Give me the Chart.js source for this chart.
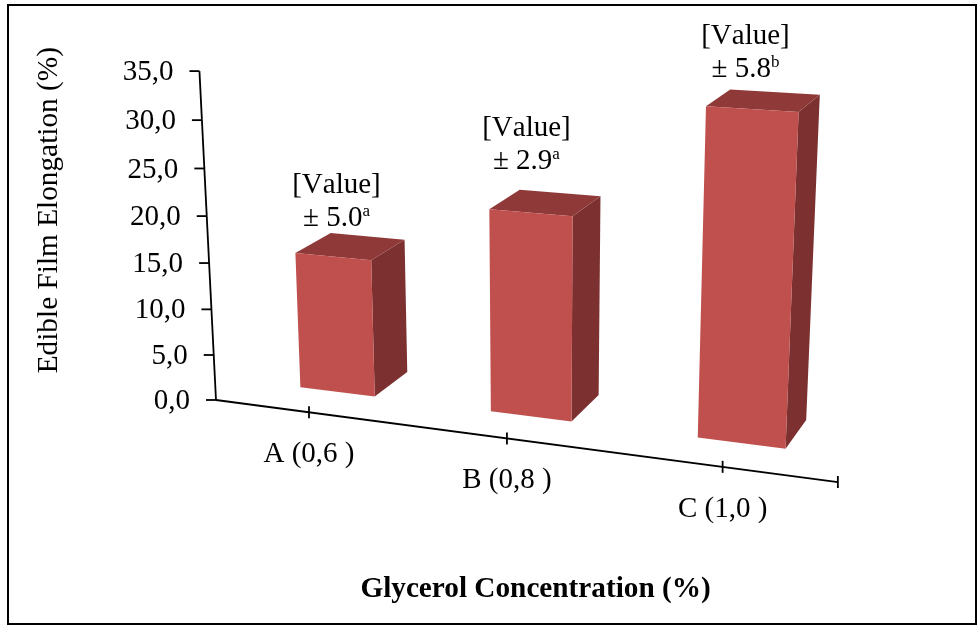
<!DOCTYPE html>
<html>
<head>
<meta charset="utf-8">
<title>Edible Film Elongation</title>
<script src="https://cdn.jsdelivr.net/npm/chart.js@4/dist/chart.umd.min.js"></script>
<style>
  html, body { margin: 0; padding: 0; background: #fff; }
  #wrap { width: 977px; height: 626px; }
</style>
</head>
<body>
<div id="wrap"><canvas id="filmChart" width="977" height="626"></canvas></div>
<script>
const categories = ['A (0,6 )', 'B (0,8 )', 'C (1,0 )'];
const elongation = [14.9, 21.4, 33.1];
const errors = ['± 5.0', '± 2.9', '± 5.8'];
const letters = ['a', 'a', 'b'];
const yMax = 35;
const yStep = 5;

// layout of the value labels, relative to the middle of each bar's top
const labelShift = [[-14, -28], [-19, -41], [-18, -31]];

const SERIF = '"Liberation Serif", "Times New Roman", serif';
const FONT_SIZE = 29;
const FRONT = '#C0504D', SIDE = '#7C3130', TOP = '#8F3A39';

// perspective of the 3D box, vanishing points fitted on the picture
const ORIGIN = [216, 400];
const VX = [-4310, -197], VY = [539, 6817], VZ = [1363, -350];
const CX = -0.1208, CY = -0.001393, CZ = 1;
const DEPTH_FRONT = 0.027, DEPTH_BACK = 0.061;

// f: 0..1 along the category axis, h: axis value, d: depth
function project(f, h, d) {
  const w = 1 + CX * f + CY * h + CZ * d;
  return [0, 1].map(i =>
    (ORIGIN[i] + CX * f * VX[i] + CY * h * VY[i] + CZ * d * VZ[i]) / w);
}

function face(ctx, pts, color) {
  ctx.beginPath();
  pts.forEach((p, i) => i ? ctx.lineTo(p[0], p[1]) : ctx.moveTo(p[0], p[1]));
  ctx.closePath();
  ctx.fillStyle = color;
  ctx.fill();
}

function seg(ctx, a, b) {
  ctx.beginPath();
  ctx.moveTo(a[0], a[1]);
  ctx.lineTo(b[0], b[1]);
  ctx.stroke();
}

const box3d = {
  id: 'box3d',
  beforeDraw(chart) {
    const ctx = chart.ctx;
    ctx.save();
    ctx.strokeStyle = '#000';
    ctx.lineWidth = 2;
    ctx.strokeRect(8, 5, 968, 619);
    ctx.restore();
  },
  afterDatasetsDraw(chart) {
    const ctx = chart.ctx, area = chart.chartArea;
    const xs = chart.scales.x, ys = chart.scales.y;
    const toF = px => (px - area.left) / (area.right - area.left);

    ctx.save();
    ctx.strokeStyle = '#000';
    ctx.lineWidth = 1.8;
    ctx.fillStyle = '#000';
    ctx.font = FONT_SIZE + 'px ' + SERIF;
    ctx.fontKerning = 'none';

    // value axis
    seg(ctx, project(0, 0, 0), project(0, yMax, 0));
    ctx.textAlign = 'right';
    ctx.textBaseline = 'middle';
    ys.ticks.forEach(t => {
      const p = project(0, t.value, 0);
      seg(ctx, [p[0] - 10, p[1]], p);
      ctx.fillText(t.value.toFixed(1).replace('.', ','), p[0] - 26, p[1] + 1.5);
    });

    // category axis
    seg(ctx, project(0, 0, 0), project(1, 0, 0));
    ctx.textAlign = 'center';
    categories.forEach((c, i) => {
      const p = project(toF(xs.getPixelForValue(i)), 0, 0);
      seg(ctx, [p[0], p[1] - 6], [p[0], p[1] + 6]);
      ctx.fillText(c, p[0], p[1] + 42.5);
    });
    const end = project(1, 0, 0);
    seg(ctx, [end[0], end[1] - 6], [end[0], end[1] + 6]);

    // bars
    chart.getDatasetMeta(0).data.forEach((bar, i) => {
      const l = toF(bar.x - bar.width / 2), r = toF(bar.x + bar.width / 2);
      const h = ys.getValueForPixel(bar.y);
      const p = project;
      face(ctx, [p(r, 0, DEPTH_FRONT), p(r, 0, DEPTH_BACK), p(r, h, DEPTH_BACK), p(r, h, DEPTH_FRONT)], SIDE);
      face(ctx, [p(l, h, DEPTH_FRONT), p(r, h, DEPTH_FRONT), p(r, h, DEPTH_BACK), p(l, h, DEPTH_BACK)], TOP);
      face(ctx, [p(l, 0, DEPTH_FRONT), p(r, 0, DEPTH_FRONT), p(r, h, DEPTH_FRONT), p(l, h, DEPTH_FRONT)], FRONT);

      // value labels
      const mid = project((l + r) / 2, h, (DEPTH_FRONT + DEPTH_BACK) / 2);
      const cx = mid[0] + labelShift[i][0], cy = mid[1] + labelShift[i][1];
      ctx.fillStyle = '#000';
      ctx.font = FONT_SIZE + 'px ' + SERIF;
      ctx.textAlign = 'center';
      ctx.textBaseline = 'middle';
      ctx.fillText('[Value]', cx, cy - 33);
      const w1 = ctx.measureText(errors[i]).width;
      ctx.font = '17px ' + SERIF;
      const w2 = ctx.measureText(letters[i]).width;
      ctx.textAlign = 'left';
      ctx.fillText(letters[i], cx - (w1 + w2) / 2 + w1, cy - 7);
      ctx.font = FONT_SIZE + 'px ' + SERIF;
      ctx.fillText(errors[i], cx - (w1 + w2) / 2, cy);
    });
    ctx.restore();
  }
};

new Chart(document.getElementById('filmChart'), {
  type: 'bar',
  data: {
    labels: categories,
    datasets: [{
      data: elongation,
      backgroundColor: 'rgba(0,0,0,0)',
      categoryPercentage: 0.4,
      barPercentage: 1
    }]
  },
  options: {
    responsive: false,
    animation: false,
    layout: { padding: { top: 71, right: 126, bottom: 19.5, left: 0 } },
    plugins: { legend: { display: false }, tooltip: { enabled: false } },
    scales: {
      x: {
        grid: { display: false },
        border: { display: false },
        ticks: { display: false },
        title: {
          display: true,
          text: 'Glycerol Concentration (%)',
          color: '#000',
          font: { family: SERIF, size: 29.25, weight: 'bold' },
          padding: { top: 214, bottom: 0 }
        }
      },
      y: {
        min: 0,
        max: yMax,
        grid: { display: false },
        border: { display: false },
        ticks: { display: false, stepSize: yStep },
        title: {
          display: true,
          text: 'Edible Film Elongation (%)',
          color: '#000',
          font: { family: SERIF, size: 29.3 },
          padding: { top: 32, bottom: 145 }
        }
      }
    }
  },
  plugins: [box3d]
});
</script>
</body>
</html>
